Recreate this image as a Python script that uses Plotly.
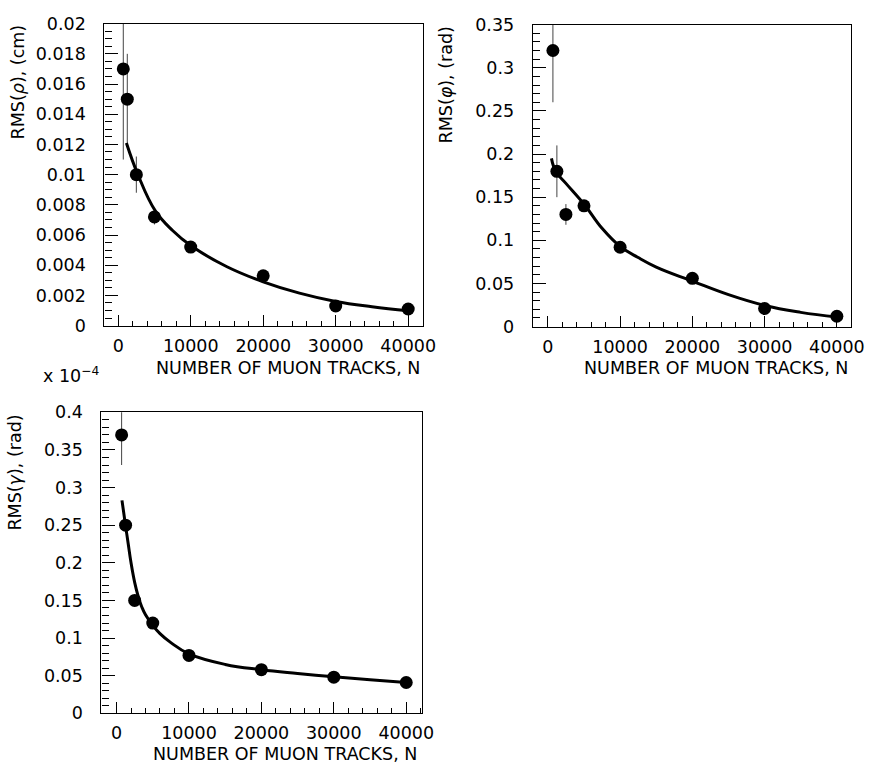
import plotly.graph_objects as go

W, H = 885, 774

# ---------------- data ----------------
N_tracks = [700, 1250, 2500, 5000, 10000, 20000, 30000, 40000]

rms_rho = [0.017, 0.015, 0.010, 0.0072, 0.0052, 0.0033, 0.0013, 0.0011]
err_rho = [0.006, 0.003, 0.0012, 0.0005, 0.0002, 0.0002, 0.0002, 0.0002]
fit_rho_N = [1130, 2720, 5120, 7500, 10000, 15000, 20000, 25000, 30000, 35000, 40000]
fit_rho = [0.0121, 0.0100, 0.0076, 0.0063, 0.0053, 0.0039, 0.0029, 0.00215, 0.0016, 0.00125, 0.00098]

rms_phi = [0.32, 0.18, 0.13, 0.14, 0.092, 0.056, 0.021, 0.012]
err_phi = [0.06, 0.03, 0.012, 0.004, 0.003, 0.003, 0.003, 0.003]
fit_phi_N = [500, 1090, 2500, 5090, 7500, 10000, 12500, 15000, 20000, 25000, 30000, 35000, 40000]
fit_phi = [0.195, 0.180, 0.166, 0.141, 0.114, 0.093, 0.080, 0.069, 0.0527, 0.037, 0.0245, 0.0165, 0.011]

rms_gam = [0.37, 0.25, 0.15, 0.12, 0.077, 0.058, 0.048, 0.041]
err_gam = [0.04, 0.004, 0.003, 0.003, 0.002, 0.002, 0.002, 0.002]
fit_gam_N = [750, 1250, 1600, 2000, 2500, 3000, 3500, 4000, 5000, 6000, 7500, 10000, 15000, 20000, 25000, 30000, 35000, 40000]
fit_gam = [0.283, 0.249, 0.226, 0.200, 0.174, 0.155, 0.141, 0.131, 0.117, 0.106, 0.094, 0.079, 0.065, 0.058, 0.053, 0.0485, 0.0446, 0.041]

x_ticks = [0, 10000, 20000, 30000, 40000]
x_ticktext = ["0", "10000", "20000", "30000", "40000"]
rho_ticks = [0, 0.002, 0.004, 0.006, 0.008, 0.01, 0.012, 0.014, 0.016, 0.018, 0.02]
rho_ticktext = ["0", "0.002", "0.004", "0.006", "0.008", "0.01", "0.012", "0.014", "0.016", "0.018", "0.02"]
phi_ticks = [0, 0.05, 0.1, 0.15, 0.2, 0.25, 0.3, 0.35]
phi_ticktext = ["0", "0.05", "0.1", "0.15", "0.2", "0.25", "0.3", "0.35"]
gam_ticks = [0, 0.05, 0.1, 0.15, 0.2, 0.25, 0.3, 0.35, 0.4]
gam_ticktext = ["0", "0.05", "0.1", "0.15", "0.2", "0.25", "0.3", "0.35", "0.4"]

x_title = "NUMBER OF MUON TRACKS, N"
y_titles = ["RMS(<i>ρ</i>), (cm)", "RMS(<i>φ</i>), (rad)", "RMS(<i>γ</i>), (rad)"]
exp_label = "x 10<sup>−4</sup>"

# ---------------- layout geometry (pixels) ----------------
FONT = "DejaVu Sans"
FS = 17.5

def px_dom_x(a, b):
    return [a / W, b / W]

def px_dom_y(top, bottom):
    return [1 - bottom / H, 1 - top / H]

panels = [
    dict(xd=px_dom_x(106, 429), yd=px_dom_y(14, 324), xr=[-1900, 42000], yr=[0, 0.02],
         yt=rho_ticks, ytt=rho_ticktext, ymin=0.0005),
    dict(xd=px_dom_x(540.7, 864), yd=px_dom_y(15, 325), xr=[-2090, 42000], yr=[0, 0.35],
         yt=phi_ticks, ytt=phi_ticktext, ymin=0.01),
    dict(xd=px_dom_x(103, 428), yd=px_dom_y(413, 722), xr=[-2080, 42140], yr=[0, 0.4],
         yt=gam_ticks, ytt=gam_ticktext, ymin=0.01),
]

series = [(rms_rho, err_rho, fit_rho_N, fit_rho),
          (rms_phi, err_phi, fit_phi_N, fit_phi),
          (rms_gam, err_gam, fit_gam_N, fit_gam)]

fig = go.Figure()

for i, (vals, errs, fn, fv) in enumerate(series):
    sfx = "" if i == 0 else str(i + 1)
    xa, ya = "x" + sfx, "y" + sfx
    fig.add_trace(go.Scatter(
        x=N_tracks, y=vals, mode="markers", xaxis=xa, yaxis=ya,
        marker=dict(size=13, color="black"),
        error_y=dict(type="data", array=errs, visible=True, width=0, thickness=1, color="#444"),
        cliponaxis=True, showlegend=False))
    fig.add_trace(go.Scatter(
        x=fn, y=fv, mode="lines", xaxis=xa, yaxis=ya,
        line=dict(color="black", width=3, shape="spline", smoothing=1.2),
        showlegend=False))

layout = dict(width=W, height=H, margin=dict(l=0, r=0, t=0, b=0),
              paper_bgcolor="white", plot_bgcolor="white", showlegend=False)

for i, p in enumerate(panels):
    sfx = "" if i == 0 else str(i + 1)
    layout["xaxis" + sfx] = dict(
        domain=p["xd"], range=p["xr"], anchor="y" + sfx,
        showline=True, linecolor="black", linewidth=1.2, mirror=True,
        ticks="inside", ticklen=11, tickwidth=1, tickcolor="black",
        tickvals=x_ticks, ticktext=x_ticktext,
        tickfont=dict(family=FONT, size=FS, color="black"),
        ticklabelstandoff=4,
        showgrid=False, zeroline=False,
        minor=dict(ticks="inside", ticklen=5, dtick=2000, tick0=0, tickcolor="black", showgrid=False))
    layout["yaxis" + sfx] = dict(
        domain=p["yd"], range=p["yr"], anchor="x" + sfx,
        showline=True, linecolor="black", linewidth=1.2, mirror=True,
        ticks="inside", ticklen=13, tickwidth=1, tickcolor="black",
        tickvals=p["yt"], ticktext=p["ytt"],
        tickfont=dict(family=FONT, size=FS, color="black"),
        ticklabelstandoff=14,
        showgrid=False, zeroline=False,
        minor=dict(ticks="inside", ticklen=7, dtick=p["ymin"], tick0=0, tickcolor="black", showgrid=False))

fig.update_layout(**layout)

ann = []
# y titles (rotated, top-aligned)
for (xc, ytop, txt) in [(18.5, 13, y_titles[0]), (453, 15, y_titles[1]), (15.5, 413, y_titles[2])]:
    ann.append(dict(x=xc / W, y=1 - ytop / H, xref="paper", yref="paper", text=txt,
                    textangle=-90, xanchor="center", yanchor="top", showarrow=False,
                    font=dict(family=FONT, size=FS, color="black")))
# x titles (right-aligned)
for (xr, yc) in [(428, 367), (863, 367.5), (425, 764)]:
    ann.append(dict(x=xr / W, y=1 - yc / H, xref="paper", yref="paper", text=x_title,
                    xanchor="right", yanchor="middle", showarrow=False,
                    font=dict(family=FONT, size=FS, color="black")))
# exponent label
ann.append(dict(x=42 / W, y=1 - 388 / H, xref="paper", yref="paper", text=exp_label,
                xanchor="left", yanchor="bottom", showarrow=False,
                font=dict(family=FONT, size=FS, color="black")))
fig.update_layout(annotations=ann)

fig.write_html("out.html")
